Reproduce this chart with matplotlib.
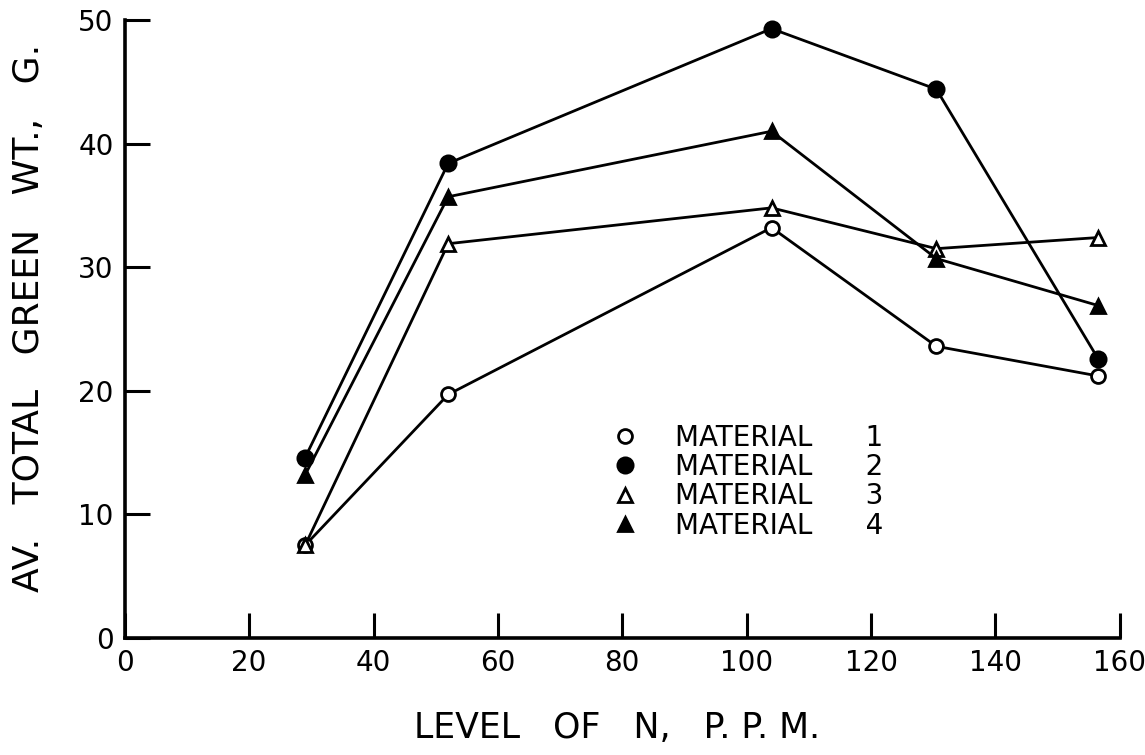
import matplotlib.pyplot as plt
from matplotlib.lines import Line2D

plt.rcParams.update({
    'font.family': 'DejaVu Sans',
    'axes.facecolor': 'white',
    'figure.facecolor': 'white',
})

# Level of N, p.p.m.
n_level = [29, 52, 104, 130.5, 156.5]

# Av. total green wt., g.
material_1 = [7.5, 19.7, 33.2, 23.6, 21.2]
material_2 = [14.6, 38.4, 49.3, 44.4, 22.6]
material_3 = [7.5, 31.9, 34.8, 31.5, 32.4]
material_4 = [13.2, 35.7, 41.0, 30.7, 26.9]

labels = ['MATERIAL      1', 'MATERIAL      2', 'MATERIAL      3', 'MATERIAL      4']

x_ticks = [0, 20, 40, 60, 80, 100, 120, 140, 160]
y_ticks = [0, 10, 20, 30, 40, 50]

styles = [
    dict(marker='o', mfc='white', ms=10),
    dict(marker='o', mfc='black', ms=11),
    dict(marker='^', mfc='white', ms=10),
    dict(marker='^', mfc='black', ms=10),
]

fig = plt.figure(figsize=(11.45, 7.55), dpi=100)
ax = fig.add_axes([0.109, 0.155, 0.869, 0.8185])

series = [material_1, material_2, material_3, material_4]
for vals, st in zip(series, styles):
    ax.plot(n_level, vals, color='black', lw=2.0, marker=st['marker'],
            markerfacecolor=st['mfc'], markeredgecolor='black',
            markeredgewidth=2.0, markersize=st['ms'], clip_on=False)

ax.set_xlim(0, 160)
ax.set_ylim(0, 50)
ax.set_xticks(x_ticks)
ax.set_yticks(y_ticks)
ax.tick_params(direction='in', length=18, width=2.2, labelsize=20, pad=8)
for s in ['top', 'right']:
    ax.spines[s].set_visible(False)
for s in ['left', 'bottom']:
    ax.spines[s].set_linewidth(2.6)

fig.text(0.539, 1 - 728 / 755, 'LEVEL   OF   N,   P. P. M.', fontsize=25,
         ha='center', va='center')
fig.text(0.025, 1 - 318 / 755, 'AV.   TOTAL   GREEN   WT.,   G.', fontsize=26,
         ha='center', va='center', rotation=90)

handles = [Line2D([], [], ls='none', marker=st['marker'], markerfacecolor=st['mfc'],
                  markeredgecolor='black', markeredgewidth=2.0, markersize=st['ms'])
           for st in styles]
ax.legend(handles, labels, loc='upper left', bbox_to_anchor=(0.478, 0.365),
          frameon=False, fontsize=20, handlelength=1.0, handletextpad=1.3,
          labelspacing=0.05, borderaxespad=0)

plt.savefig('out.png', dpi=100)
